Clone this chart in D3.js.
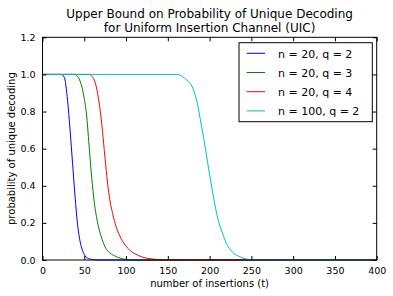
<!DOCTYPE html>
<html>
<head>
<meta charset="utf-8">
<script src="https://cdn.jsdelivr.net/npm/d3@7"></script>
<style>
  body { margin: 0; background: #fff; }
  text { font-family: "DejaVu Sans", sans-serif; fill: #000; }
</style>
</head>
<body>
<svg id="chart" width="393" height="296"></svg>
<script>
// values
var blueT  = [0, 22, 26, 30, 33, 36, 39, 42, 45, 48, 51, 55, 60, 65, 400];
var blueP  = [1, 1, 0.985, 0.86, 0.7, 0.52, 0.34, 0.19, 0.1, 0.05, 0.022, 0.008, 0.002, 0, 0];
var greenT = [0, 38, 42, 46, 50, 53, 56, 59, 62, 66, 70, 75, 80, 85, 90, 95, 100, 110, 400];
var greenP = [1, 1, 0.99, 0.95, 0.87, 0.77, 0.6, 0.44, 0.31, 0.2, 0.13, 0.07, 0.04, 0.025, 0.015, 0.007, 0.003, 0, 0];
var redT   = [0, 55, 60, 64, 68, 71, 74, 77, 80, 84, 88, 92, 96, 100, 105, 110, 115, 120, 130, 140, 150, 400];
var redP   = [1, 1, 0.985, 0.94, 0.84, 0.73, 0.59, 0.45, 0.34, 0.25, 0.18, 0.135, 0.1, 0.075, 0.05, 0.035, 0.024, 0.015, 0.006, 0.002, 0, 0];
var cyanT  = [0, 160, 165, 170, 175, 180, 185, 190, 195, 200, 205, 210, 215, 220, 225, 230, 235, 240, 245, 250, 260, 400];
var cyanP  = [1, 1, 0.995, 0.98, 0.96, 0.925, 0.85, 0.73, 0.6, 0.46, 0.33, 0.22, 0.15, 0.09, 0.055, 0.032, 0.02, 0.01, 0.004, 0.001, 0, 0];

var seriesNames = ["n = 20, q = 2", "n = 20, q = 3", "n = 20, q = 4", "n = 100, q = 2"];
var seriesColors = ["#0000ff", "#008000", "#ff0000", "#00bfbf"];
var xTicks = [0, 50, 100, 150, 200, 250, 300, 350, 400];
var yTicks = [0, 0.2, 0.4, 0.6, 0.8, 1.0, 1.2];

var pLeft = 42.5, pRight = 376.7, pTop = 37.3, pBottom = 260;
var x = d3.scaleLinear().domain([0, 400]).range([pLeft, pRight]);
var y = d3.scaleLinear().domain([0, 1.2]).range([pBottom, pTop]);

var svg = d3.select("#chart");

var series = [
  {name: seriesNames[0], color: seriesColors[0], t: blueT, p: blueP},
  {name: seriesNames[1], color: seriesColors[1], t: greenT, p: greenP},
  {name: seriesNames[2], color: seriesColors[2], t: redT, p: redP},
  {name: seriesNames[3], color: seriesColors[3], t: cyanT, p: cyanP}
];

var line = d3.line()
  .x(function(d) { return x(d[0]); })
  .y(function(d) { return y(d[1]); })
  .curve(d3.curveMonotoneX);

svg.append("g").selectAll("path").data(series).enter().append("path")
  .attr("d", function(s) { return line(s.t.map(function(t, i) { return [t, s.p[i]]; })); })
  .attr("fill", "none")
  .attr("stroke", function(s) { return s.color; })
  .attr("stroke-width", 1);

// axes, ticks inside on all sides
var fmtY = d3.format(".1f");
svg.append("g").attr("transform", "translate(0," + pBottom + ")")
  .call(d3.axisBottom(x).tickValues(xTicks).tickSizeInner(-4).tickSizeOuter(0).tickPadding(7))
  .call(function(g) { g.select(".domain").remove(); g.selectAll("text").style("font-size", "9.5px").attr("font-family", null); });
svg.append("g").attr("transform", "translate(0," + pTop + ")")
  .call(d3.axisTop(x).tickValues(xTicks).tickSizeInner(-4).tickSizeOuter(0).tickFormat(""))
  .call(function(g) { g.select(".domain").remove(); });
svg.append("g").attr("transform", "translate(" + pLeft + ",0)")
  .call(d3.axisLeft(y).tickValues(yTicks).tickFormat(fmtY).tickSizeInner(-4).tickSizeOuter(0).tickPadding(7))
  .call(function(g) { g.select(".domain").remove(); g.selectAll("text").style("font-size", "9.5px").attr("font-family", null); });
svg.append("g").attr("transform", "translate(" + pRight + ",0)")
  .call(d3.axisRight(y).tickValues(yTicks).tickSizeInner(-4).tickSizeOuter(0).tickFormat(""))
  .call(function(g) { g.select(".domain").remove(); });

svg.append("rect")
  .attr("x", pLeft).attr("y", pTop)
  .attr("width", pRight - pLeft).attr("height", pBottom - pTop)
  .attr("fill", "none").attr("stroke", "#000").attr("stroke-width", 1);

// title and labels
svg.append("text").attr("x", 209.6).attr("y", 18.3).attr("text-anchor", "middle")
  .style("font-size", "12px").text("Upper Bound on Probability of Unique Decoding");
svg.append("text").attr("x", 209.6).attr("y", 31.7).attr("text-anchor", "middle")
  .style("font-size", "12px").text("for Uniform Insertion Channel (UIC)");
svg.append("text").attr("x", 209.6).attr("y", 287.3).attr("text-anchor", "middle")
  .style("font-size", "10px").text("number of insertions (t)");
svg.append("text").attr("transform", "translate(14.5,148.6) rotate(-90)").attr("text-anchor", "middle")
  .style("font-size", "10px").text("probability of unique decoding");

// legend
var lg = svg.append("g");
lg.append("rect").attr("x", 239).attr("y", 42.7).attr("width", 133.3).attr("height", 79)
  .attr("fill", "#fff").attr("stroke", "#000").attr("stroke-width", 1);
var rows = lg.selectAll("g.row").data(series).enter().append("g")
  .attr("transform", function(d, i) { return "translate(0," + (53.3 + i * 19.2) + ")"; });
rows.append("line").attr("x1", 246.7).attr("x2", 265).attr("y1", 0).attr("y2", 0)
  .attr("stroke", function(d) { return d.color; }).attr("stroke-width", 1);
rows.append("text").attr("x", 278).attr("y", 4.2).style("font-size", "11px")
  .text(function(d) { return d.name; });
</script>
</body>
</html>
